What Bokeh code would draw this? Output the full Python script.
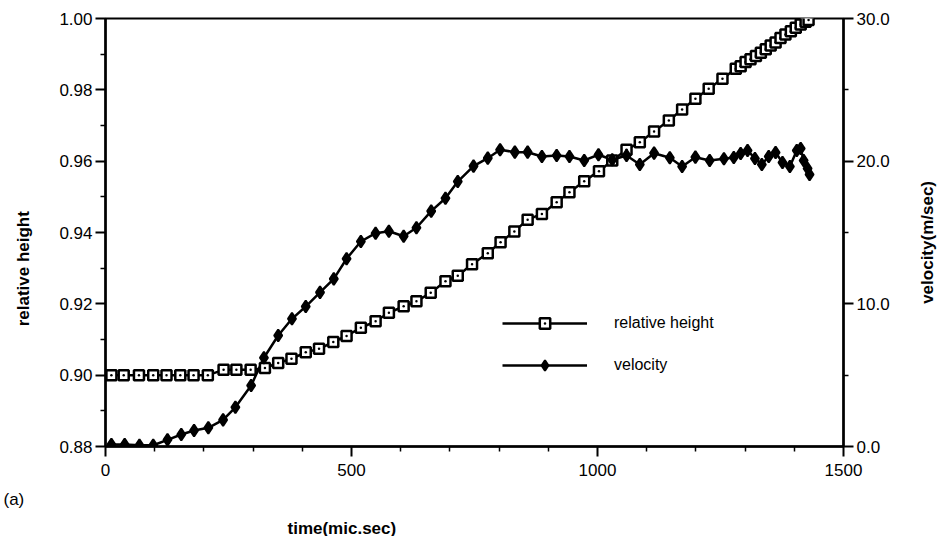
from bokeh.plotting import figure
from bokeh.models import (Range1d, LinearAxis, FixedTicker, PrintfTickFormatter,
                          Title, Legend, LegendItem)
from bokeh.embed import file_html
from bokeh.resources import INLINE
import math

# ---- data ----
t_height = [12, 37, 68, 97, 124, 152, 179, 208, 240, 266, 295, 324, 351, 378, 407, 434, 463, 490,
            519, 549, 576, 606, 632, 661, 691, 716, 745, 777, 803, 831, 858, 887, 917, 943, 973,
            1003, 1030, 1059, 1086, 1115, 1145, 1172, 1199, 1226, 1254, 1281, 1291, 1301, 1311,
            1322, 1332, 1342, 1352, 1362, 1372, 1382, 1393, 1403, 1413, 1423, 1429]
rel_height = [0.900, 0.900, 0.900, 0.900, 0.900, 0.900, 0.900, 0.900,
              0.9015, 0.9015, 0.9015, 0.9020, 0.9034, 0.9046, 0.9064, 0.9074, 0.9093, 0.9110,
              0.9133, 0.9151, 0.9175, 0.9193, 0.9207, 0.9231, 0.9263, 0.9279, 0.9311, 0.9342,
              0.9373, 0.9403, 0.9436, 0.9452, 0.9485, 0.9513, 0.9544, 0.9572, 0.9602, 0.9632,
              0.9653, 0.9683, 0.9714, 0.9745, 0.9775, 0.9803, 0.9831,
              0.9859, 0.9866, 0.9878, 0.9886, 0.9895, 0.9904, 0.9914, 0.9924, 0.9933, 0.9945,
              0.9955, 0.9964, 0.9974, 0.9983, 0.9991, 0.9996]

t_vel = [12, 39, 69, 97, 126, 154, 180, 209, 239, 264, 296, 322, 351, 379, 407, 436, 464, 490,
         519, 549, 576, 606, 632, 662, 691, 716, 748, 777, 802, 832, 858, 887, 917, 943, 973,
         1002, 1030, 1059, 1086, 1115, 1147, 1172, 1199, 1228, 1257, 1277, 1291, 1305, 1320,
         1334, 1348, 1362, 1376, 1391, 1405, 1413, 1419, 1427, 1431]
velocity = [0.14, 0.14, 0.09, 0.09, 0.47, 0.84, 1.12, 1.31, 1.87, 2.75, 4.28, 6.22, 7.78, 8.95,
            9.81, 10.8, 11.75, 13.16, 14.37, 14.95, 15.09, 14.74, 15.33, 16.5, 17.4, 18.57,
            19.65, 20.21, 20.8, 20.63, 20.63, 20.33, 20.4, 20.33, 20.05, 20.45, 20.1, 20.4,
            19.77, 20.56, 20.24, 19.63, 20.28, 20.05, 20.17, 20.26, 20.54, 20.75, 20.19, 19.77,
            20.33, 20.61, 19.91, 19.63, 20.75, 20.89, 20.05, 19.49, 19.07]

x_ticks = [0, 500, 1000, 1500]
x_minor = [100, 200, 300, 400, 600, 700, 800, 900, 1100, 1200, 1300, 1400]
h_ticks = [0.88, 0.90, 0.92, 0.94, 0.96, 0.98, 1.00]
h_minor = [0.89, 0.91, 0.93, 0.95, 0.97, 0.99]
v_ticks = [0, 10, 20, 30]
v_minor = [5, 15, 25]

# axis titles and the values along each axis where their text is anchored
h_title, h_title_at = "relative height", 0.946
v_title, v_title_at = "velocity(m/sec)", 10
x_title = "time(mic.sec)"
panel_tag = "(a)"

FONT = "Liberation Sans"

p = figure(width=949, height=536, output_backend="svg", toolbar_location=None,
           x_range=Range1d(0, 1500), y_range=Range1d(0.88, 1.00),
           min_border_left=105, min_border_right=104, min_border_top=18, min_border_bottom=90)
p.extra_y_ranges = {"v": Range1d(0, 30)}
p.grid.visible = False
p.outline_line_color = "black"
p.outline_line_width = 2
p.background_fill_color = "white"
p.border_fill_color = "white"

def style_axis(ax, ticks, minor, fmt):
    ax.ticker = FixedTicker(ticks=ticks, minor_ticks=minor)
    ax.formatter = PrintfTickFormatter(format=fmt)
    ax.axis_line_width = 2.5
    ax.axis_line_color = "black"
    ax.major_tick_line_width = 2
    ax.minor_tick_line_width = 1.5
    ax.major_tick_out = 10
    ax.major_tick_in = 0
    ax.minor_tick_out = 5
    ax.minor_tick_in = 0
    ax.major_label_text_font = FONT
    ax.major_label_text_font_size = "17px"
    ax.major_label_text_color = "black"
    ax.major_label_standoff = 3

def title_axis(ax, at, text, standoff):
    # an axis without line or ticks whose single (rotated) label is the axis title
    ax.ticker = FixedTicker(ticks=[at], minor_ticks=[])
    ax.major_label_overrides = {at: text}
    ax.major_label_orientation = math.pi / 2
    ax.axis_line_color = None
    ax.major_tick_out = 0
    ax.major_tick_in = 0
    ax.minor_tick_out = 0
    ax.minor_tick_in = 0
    ax.major_label_standoff = standoff
    ax.major_label_text_font = FONT
    ax.major_label_text_font_size = "17px"
    ax.major_label_text_font_style = "bold"
    ax.major_label_text_color = "black"

style_axis(p.xaxis[0], x_ticks, x_minor, "%d")
p.xaxis[0].major_label_standoff = 7
style_axis(p.yaxis[0], h_ticks, h_minor, "%.2f")

la = LinearAxis()
title_axis(la, h_title_at, h_title, 33)
p.add_layout(la, "left")

ra = LinearAxis(y_range_name="v")
style_axis(ra, v_ticks, v_minor, "%.1f")
p.add_layout(ra, "right")

ra2 = LinearAxis(y_range_name="v")
title_axis(ra2, v_title_at, v_title, 35)
p.add_layout(ra2, "right")

lh = p.line(t_height, rel_height, line_color="black", line_width=2.5)
lv = p.line(t_vel, velocity, y_range_name="v", line_color="black", line_width=2.5)
sh = p.scatter(t_height, rel_height, marker="square_dot", size=10, line_width=2.5,
               line_color="black", fill_color="white")
sv = p.scatter(t_vel, velocity, y_range_name="v", marker="diamond", size=12,
               line_color="black", fill_color="black", line_width=2)

legend = Legend(items=[LegendItem(label="relative height", renderers=[lh, sh]),
                       LegendItem(label="velocity", renderers=[lv, sv])],
                location=(397, 68), orientation="vertical",
                glyph_width=85, glyph_height=26, label_standoff=27, spacing=16,
                padding=0, margin=0, border_line_color=None, background_fill_alpha=0,
                label_text_font=FONT, label_text_font_size="16px", label_text_color="black")
p.add_layout(legend, "center")

t_a = Title(text=panel_tag, align="left", offset=-102, standoff=18, text_font=FONT,
            text_font_size="17px", text_font_style="normal", text_color="black")
p.add_layout(t_a, "below")
t_time = Title(text=x_title, align="left", offset=182, standoff=-2, text_font=FONT,
               text_font_size="17px", text_font_style="bold", text_color="black")
p.add_layout(t_time, "below")

open("out.html", "w").write(file_html(p, INLINE))
